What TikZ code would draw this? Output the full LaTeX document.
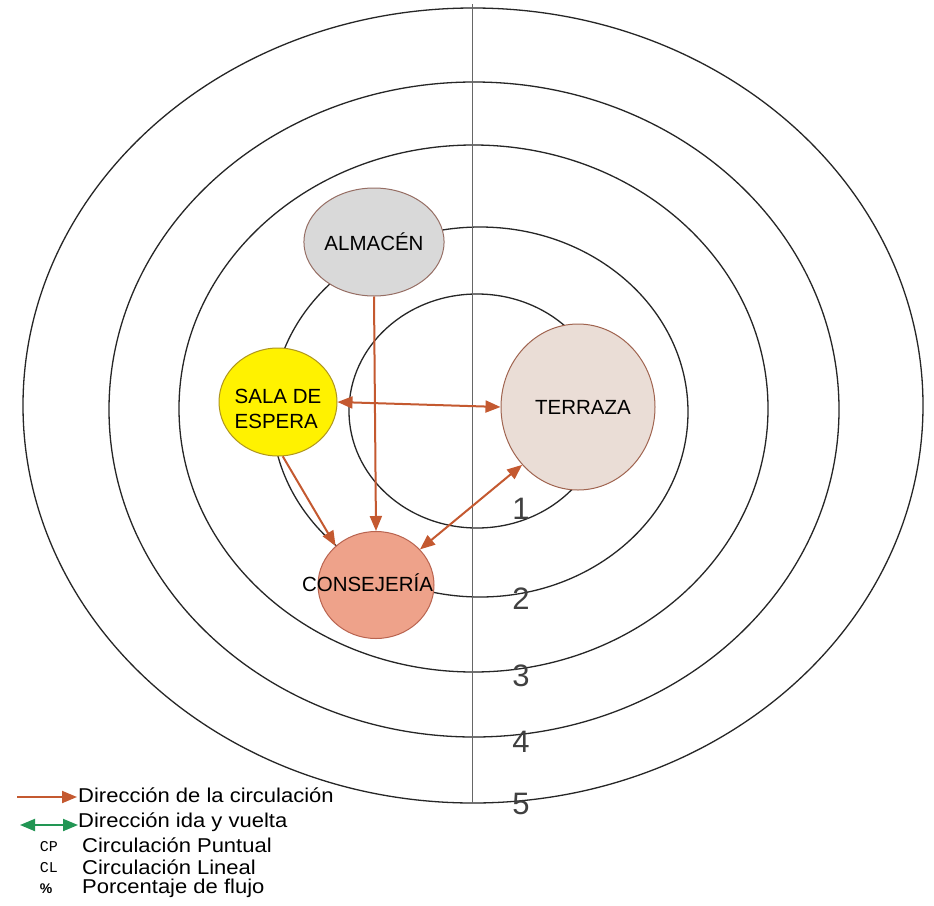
\documentclass[tikz,border=0pt]{standalone}
\usepackage{fontspec}
\setmainfont{Liberation Sans}
\setmonofont{Liberation Mono}
\usetikzlibrary{arrows.meta,shapes.geometric}
\definecolor{flow}{RGB}{196,89,48}
\definecolor{flowgreen}{RGB}{34,150,84}
\definecolor{almfill}{RGB}{217,217,217}
\definecolor{almline}{RGB}{150,110,100}
\definecolor{salaline}{RGB}{175,150,30}
\definecolor{terrfill}{RGB}{234,221,214}
\definecolor{terrline}{RGB}{160,100,80}
\definecolor{consfill}{RGB}{238,162,138}
\definecolor{consline}{RGB}{185,100,80}
\newcommand{\legwide}[1]{\scalebox{1.1}[1]{#1}}
\tikzset{
  ring/.style={draw=black!85,line width=1.3pt},
  ringnum/.style={text=black!75,font=\fontsize{31}{31}\selectfont,inner sep=0pt},
  room/.style={ellipse,draw,line width=1pt,inner sep=0pt,font=\fontsize{20.5}{25}\selectfont},
  flowline/.style={draw=flow,line width=2pt},
  legtext/.style={anchor=west,inner sep=0pt,font=\fontsize{20}{20}\selectfont},
  legmark/.style={inner sep=0pt,font=\ttfamily\fontsize{15}{15}\selectfont}
}
\begin{document}
\begin{tikzpicture}[>={Triangle[length=15pt,width=12pt]},x=1pt,y=-1pt]
\useasboundingbox[fill=white] (0,0) rectangle (934,905);
\foreach \cx/\cy/\rx/\ry in {473/405.5/450/397.5,474/409.5/365/327.5,473.5/408.5/294.5/263.5,480/412/208/185,477/411/128/117}
  {\draw[ring] (\cx,\cy) ellipse [x radius=\rx,y radius=\ry];}
\draw[black!60,line width=0.8pt] (472,4)--(472,803);
\foreach \n/\yy in {1/509,2/599,3/676,4/742,5/804}
  {\node[ringnum] (num\n) at (521,\yy) {\n};}
\node[room,draw=almline,fill=almfill,minimum width=115pt,minimum height=108pt] (alm) at (374,242) {ALMAC\'EN};
\node[room,draw=salaline,fill=yellow,minimum width=118pt,minimum height=108pt,
  label={[font=\fontsize{20.5}{25}\selectfont,align=left,yshift=-7pt]center:SALA DE\\ESPERA}] (sala) at (278,402) {};
\node[room,draw=terrline,fill=terrfill,minimum width=154pt,minimum height=166pt,
  label={[font=\fontsize{20.5}{25}\selectfont,xshift=5pt]center:TERRAZA}] (terr) at (578,407) {};
\node[room,draw=consline,fill=consfill,minimum width=116pt,minimum height=107pt,
  label={[font=\fontsize{20.5}{25}\selectfont,xshift=-8.5pt,yshift=2pt]center:CONSEJER\'IA}] (cons) at (376,585) {};
\draw[flowline,->] (alm.south)--(cons.north);
\draw[flowline,<->] (sala.east)--(terr.west);
\draw[flowline,->] (sala.-85)--(cons.136);
\draw[flowline,<->] (cons.39)--(terr.226);
\coordinate (leg1a) at (17,797);
\coordinate (leg1b) at (77,797);
\coordinate (leg2a) at (20,825);
\coordinate (leg2b) at (78,825);
\draw[flowline,->] (leg1a)--(leg1b);
\draw[draw=flowgreen,line width=2pt,<->] (leg2a)--(leg2b);
\node[legtext] (legdir) at (78,795) {\legwide{Direcci\'on de la circulaci\'on}};
\node[legtext] (legida) at (78,822) {\legwide{Direcci\'on ida y vuelta}};
\node[legmark] (cp) at (49,847) {CP};
\node[legtext] (legcp) at (82,845) {\legwide{Circulaci\'on Puntual}};
\node[legmark] (cl) at (49,868) {CL};
\node[legtext] (legcl) at (82,867) {\legwide{Circulaci\'on Lineal}};
\node[inner sep=0pt,font=\bfseries\fontsize{14}{14}\selectfont] (pct) at (46,889) {\%};
\node[legtext] (legpct) at (82,888) {\legwide{Porcentaje de flujo}};
\end{tikzpicture}
\end{document}
